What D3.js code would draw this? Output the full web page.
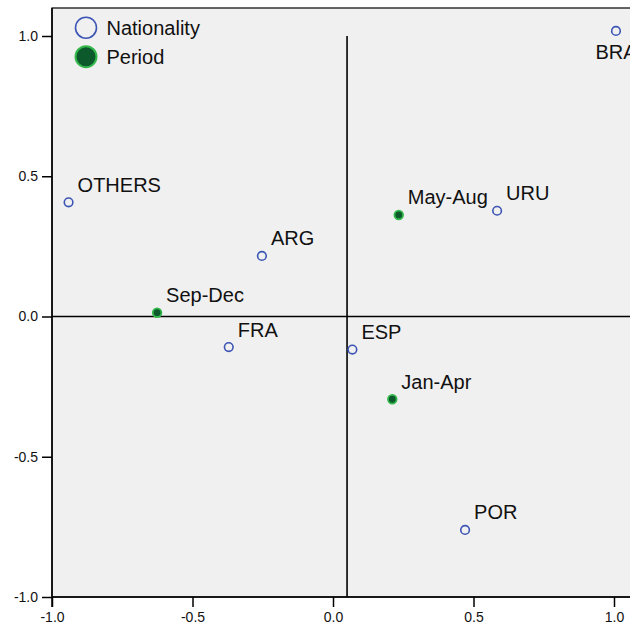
<!DOCTYPE html>
<html>
<head>
<meta charset="utf-8">
<script src="https://cdn.jsdelivr.net/npm/d3@7"></script>
<style>
  html, body { margin: 0; padding: 0; background: #ffffff; }
  svg { display: block; }
  text { font-family: "Liberation Sans", Arial, sans-serif; }
</style>
</head>
<body>
<svg id="chart" width="630" height="630"></svg>
<script>
// ---- data ----
const natLabels = ["BRA", "OTHERS", "ARG", "URU", "FRA", "ESP", "POR"];
const natX = [1.007, -0.941, -0.253, 0.584, -0.371, 0.069, 0.470];
const natY = [1.018, 0.407, 0.216, 0.377, -0.109, -0.118, -0.761];

const periodLabels = ["May-Aug", "Sep-Dec", "Jan-Apr"];
const periodX = [0.234, -0.626, 0.211];
const periodY = [0.362, 0.0135, -0.295];

const tickValues = [-1.0, -0.5, 0.0, 0.5, 1.0];
const legendLabels = ["Nationality", "Period"];
const refX = 0.05, refY = 0.0;

// ---- layout ----
const W = 630, H = 630;
const plotLeft = 52, plotTop = 8, plotRight = 640, plotBottom = 597;
const svg = d3.select("#chart");

const x = d3.scaleLinear().domain([-1, 1]).range([52, 614]);
const y = d3.scaleLinear().domain([-1, 1]).range([597, 36]);

const blue = "#3d55b4";
const greenFill = "#0c5a2b";
const greenStroke = "#34b84c";

// plot background
svg.append("rect")
  .attr("x", plotLeft).attr("y", plotTop)
  .attr("width", plotRight - plotLeft).attr("height", plotBottom - plotTop)
  .attr("fill", "#f0f0f0").attr("stroke", "#000").attr("stroke-width", 1.2);

// reference lines
svg.append("line")
  .attr("x1", x(refX)).attr("x2", x(refX))
  .attr("y1", y(1)).attr("y2", plotBottom)
  .attr("stroke", "#000").attr("stroke-width", 1.6);
svg.append("line")
  .attr("x1", plotLeft).attr("x2", plotRight)
  .attr("y1", y(refY)).attr("y2", y(refY))
  .attr("stroke", "#000").attr("stroke-width", 1.6);

// axes
const fmt = d => d.toFixed(1);
const xAxis = svg.append("g")
  .attr("transform", `translate(0,${plotBottom})`)
  .call(d3.axisBottom(x).tickValues(tickValues).tickFormat(fmt).tickSize(10).tickSizeOuter(0).tickPadding(5));
const yAxis = svg.append("g")
  .attr("transform", `translate(${plotLeft},0)`)
  .call(d3.axisLeft(y).tickValues(tickValues).tickFormat(fmt).tickSize(10).tickSizeOuter(0).tickPadding(4));
[xAxis, yAxis].forEach(g => {
  g.select(".domain").remove();
  g.selectAll(".tick line").attr("stroke", "#000").attr("stroke-width", 1.5);
  g.selectAll(".tick text").attr("fill", "#111").style("font-size", "14px")
    .style("font-family", "'Liberation Sans', Arial, sans-serif");
});
// axis lines
svg.append("line").attr("x1", plotLeft).attr("x2", plotRight)
  .attr("y1", plotBottom).attr("y2", plotBottom).attr("stroke", "#000").attr("stroke-width", 1.5);
svg.append("line").attr("x1", plotLeft).attr("x2", plotLeft)
  .attr("y1", plotTop).attr("y2", plotBottom + 10).attr("stroke", "#000").attr("stroke-width", 1.5);

// points
const natData = natLabels.map((l, i) => ({ label: l, x: natX[i], y: natY[i], type: 0 }));
const perData = periodLabels.map((l, i) => ({ label: l, x: periodX[i], y: periodY[i], type: 1 }));
const all = natData.concat(perData);

const pts = svg.append("g");
pts.selectAll("circle.nat").data(natData).join("circle")
  .attr("class", "nat")
  .attr("cx", d => x(d.x)).attr("cy", d => y(d.y)).attr("r", 4.3)
  .attr("fill", "none").attr("stroke", blue).attr("stroke-width", 1.6);
pts.selectAll("circle.per").data(perData).join("circle")
  .attr("class", "per")
  .attr("cx", d => x(d.x)).attr("cy", d => y(d.y)).attr("r", 4.3)
  .attr("fill", greenFill).attr("stroke", greenStroke).attr("stroke-width", 1.8);

// labels
const labels = svg.append("g");
all.forEach(d => {
  const cx = x(d.x), cy = y(d.y);
  const t = labels.append("text").text(d.label)
    .style("font-size", "20px").attr("fill", "#111").attr("dy", "0.35em");
  const w = t.node().getComputedTextLength();
  if (cx + 9 + w > W) {
    t.attr("x", cx).attr("y", cy + 21).attr("text-anchor", "middle");
  } else {
    t.attr("x", cx + 9).attr("y", cy - 17.5);
  }
});

// legend
const leg = svg.append("g");
legendLabels.forEach((l, i) => {
  const cy = 27.7 + i * 29;
  leg.append("circle").attr("cx", 86).attr("cy", cy).attr("r", 10.5)
    .attr("fill", i === 0 ? "none" : greenFill)
    .attr("stroke", i === 0 ? blue : greenStroke)
    .attr("stroke-width", i === 0 ? 1.6 : 2);
  leg.append("text").attr("x", 106.5).attr("y", cy).attr("dy", "0.35em")
    .style("font-size", "20px").attr("fill", "#111").text(l);
});
</script>
</body>
</html>
